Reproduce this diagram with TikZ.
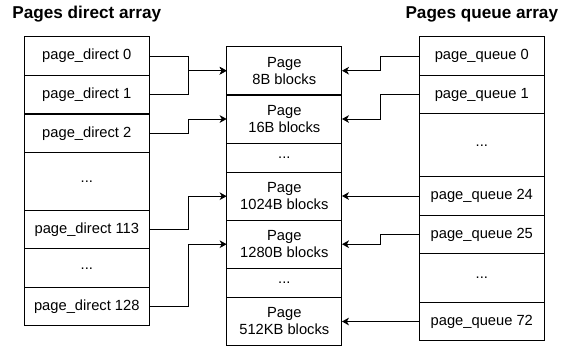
\documentclass[tikz,border=0pt]{standalone}
\usepackage{fontspec}
\setmainfont{Liberation Sans}
\usetikzlibrary{arrows.meta}

\begin{document}
\begin{tikzpicture}[x=0.025cm, y=-0.025cm,
  cell/.style={draw, fill=white, line width=0.7pt, inner sep=0pt, outer sep=0pt, align=center, font=\fontsize{10.46}{12.2}\selectfont},
  side/.style={cell, minimum width=3.125cm, minimum height=0.9625cm},
  page/.style={cell, minimum width=2.883cm, minimum height=1.2cm},
  title/.style={font=\fontsize{12.2}{14}\selectfont\bfseries},
  link/.style={draw, line width=0.7pt, -{Stealth[length=5pt,width=5.5pt,inset=1.5pt]}}]
\clip (0,0) rectangle (569,345);

\node[title] (dtitle) at (86.8,14) {Pages direct array};
\node[title] (qtitle) at (481.8,14) {Pages queue array};

\node[side] (pd0) at (86.8,56) {page\_direct 0};
\node[side] (pd1) at (86.8,94.7) {page\_direct 1};
\node[side] (pd2) at (86.8,133.3) {page\_direct 2};
\node[side, minimum height=1.45cm] (pddots1) at (86.8,181.7) {...};
\node[side] (pd113) at (86.8,229.8) {page\_direct 113};
\node[side] (pddots2) at (86.8,268.2) {...};
\node[side] (pd128) at (86.8,306.5) {page\_direct 128};

\node[page] (p8) at (284.3,70.7) {Page\\8B blocks};
\node[page] (p16) at (284.3,119) {Page\\16B blocks};
\node[page, minimum height=0.73cm] (pdots1) at (284.3,157.9) {...};
\node[page] (p1024) at (284.3,196.2) {Page\\1024B blocks};
\node[page] (p1280) at (284.3,244.2) {Page\\1280B blocks};
\node[page, minimum height=0.725cm] (pdots2) at (284.3,282.8) {...};
\node[page] (p512) at (284.3,321.3) {Page\\512KB blocks};

\node[side] (pq0) at (481.8,56) {page\_queue 0};
\node[side] (pq1) at (481.8,94.7) {page\_queue 1};
\node[side, minimum height=1.5675cm] (pqdots1) at (481.8,145.3) {...};
\node[side] (pq24) at (481.8,196) {page\_queue 24};
\node[side] (pq25) at (481.8,234.5) {page\_queue 25};
\node[side, minimum height=1.215cm] (pqdots2) at (481.8,278) {...};
\node[side] (pq72) at (481.8,321.5) {page\_queue 72};

\draw[link] (pd0.east) -- ++(38.7,0) |- (p8.west);
\draw[link] (pd1.east) -- ++(38.7,0) |- (p8.west);
\draw[link] (pd2.east) -- ++(38.7,0) |- (p16.west);
\draw[link] (pd113.east) -- ++(38.7,0) |- (p1024.west);
\draw[link] (pd128.east) -- ++(38.7,0) |- (p1280.west);

\draw[link] (pq0.west) -- ++(-38.6,0) |- (p8.east);
\draw[link] (pq1.west) -- ++(-38.6,0) |- (p16.east);
\draw[link] (pq24.west) -- (pq24.west -| p1024.east);
\draw[link] (pq25.west) -- ++(-38.6,0) |- (p1280.east);
\draw[link] (pq72.west) -- (pq72.west -| p512.east);
\end{tikzpicture}
\end{document}
